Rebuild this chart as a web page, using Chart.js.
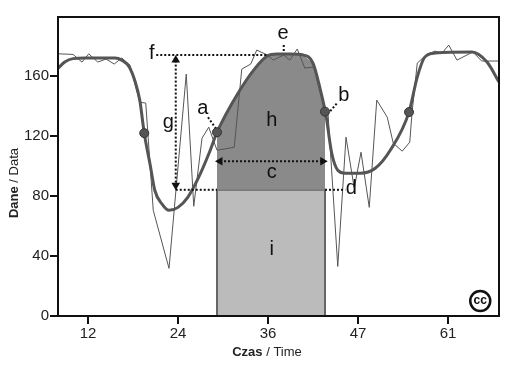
<!DOCTYPE html>
<html>
<head>
<meta charset="utf-8">
<style>
  html, body { margin: 0; padding: 0; background: #fff; }
  #wrap { width: 522px; height: 370px; }
</style>
<script src="https://cdn.jsdelivr.net/npm/chart.js@4/dist/chart.umd.min.js"></script>
</head>
<body>
<div id="wrap"><canvas id="chart" width="522" height="370"></canvas></div>
<script>
const xTickValues = [12, 24, 36, 48, 60];
const xTickLabels = ['12', '24', '36', '47', '61'];
const yTickValues = [0, 40, 80, 120, 160];

// thin line, raw data
const rawX = [8, 10, 11.2, 12.1, 13.3, 14.4, 15.5, 16.5, 17.6, 18.9, 19.7, 20.7, 22.8, 25.1, 26.1, 27.2, 28.1, 29.2, 31.5, 32.5, 33.7, 34.5, 35.9, 36.7, 38.1, 38.9, 39.9, 40.9, 42.1, 43.5, 44, 45.3, 46.4, 47.5, 48.4, 49.5, 50.5, 51.9, 52.7, 53.9, 54.9, 55.2, 55.9, 57.2, 58.3, 59.2, 60.1, 61.2, 63.3, 64.5, 66.8];
const rawY = [174.5, 174.1, 169, 174.5, 169, 171, 167.7, 171.7, 167, 142.3, 141.7, 70.3, 31.7, 161, 73, 118.3, 125.7, 110.3, 112.3, 164.3, 167.7, 177, 173.7, 170.3, 173.7, 170.3, 177.7, 165, 165.7, 138.3, 135, 33, 119, 85, 109, 72.3, 143.7, 132.3, 115, 109.7, 115.7, 135, 168.3, 174.3, 176.3, 175, 180.3, 170.3, 175.7, 169.7, 169.7];

// thick line, smoothed data
const fitX = [8, 8.9, 10, 11.6, 13.6, 15.6, 16.5, 17.5, 18.3, 18.9, 19.5, 20.3, 20.9, 21.9, 22.8, 24, 25.3, 26.7, 28.3, 29.2, 32, 34.3, 35.9, 37.2, 38.9, 40.7, 42, 42.9, 43.7, 44.5, 45.3, 46.3, 48.3, 50.3, 52.3, 54.8, 55.9, 56.9, 58.3, 63.2, 65.2, 66.8];
const fitY = [164.8, 169, 171.3, 171.7, 171.7, 171.7, 170.3, 165.7, 155.7, 143.7, 121.7, 100.3, 83.7, 74.3, 70.3, 72.3, 79, 91.7, 110.3, 122.3, 148.3, 165, 173, 174.3, 174.3, 173.7, 168.3, 152.3, 134.3, 108.3, 97, 95, 95, 98.3, 110.3, 135.7, 159, 172.3, 175, 175.7, 169, 155.7];

// shaded regions h and i
const areaX = [29.2, 32, 34.3, 35.9, 37.2, 38.9, 40.7, 42, 42.9, 43.6];
const areaTop = [122.3, 148.3, 165, 173, 174.3, 174.3, 173.7, 168.3, 152.3, 136];
const baseX = [29.2, 29.2, 43.6, 43.6];
const baseY = [0, 84, 84, 0];
const baseline = 84;

// markers on the curve
const dotX = [19.5, 29.2, 43.6, 54.8];
const dotY = [121.7, 122.3, 136, 135.7];

// dotted guides
const fLineX = [21.1, 35.9];
const fLineY = [173.7, 173.7];
const gLineX = [23.7, 23.7];
const gLineY = [170, 87];
const dLeftX = [23.7, 29.2];
const dRightX = [43.6, 46.3];
const dLineY = [84, 84];
const cLineX = [29.6, 43.3];
const cLineY = [103, 103];
const aLineX = [28, 29.2];
const aLineY = [132.3, 123.7];
const bLineX = [44.3, 45.3];
const bLineY = [136.3, 142.3];
const eLineX = [38.1, 38.1];
const eLineY = [180.3, 175];

// arrow heads
const arrowX = [23.7, 23.7, 29.6, 43.3];
const arrowY = [170.3, 87, 103, 103];
const arrowTurn = [0, 180, -90, 90];

// letters on the plot
const noteText = ['f', 'g', 'a', 'b', 'c', 'd', 'e', 'h', 'i'];
const noteX = [20.5, 22.7, 27.3, 46.1, 36.5, 47.1, 38, 36.5, 36.5];
const noteY = [175, 129, 138.3, 147, 95.7, 85, 187.7, 130.3, 44.3];

// cc badge
const badgeX = [64.3];
const badgeY = [10];

const pairs = (xs, ys) => xs.map((x, i) => ({ x: x, y: ys[i] }));

const guide = (xs, ys) => ({
    data: pairs(xs, ys),
    borderColor: '#111',
    borderWidth: 2,
    borderDash: [2, 2],
    pointRadius: 0,
    fill: false
});

const decorations = {
    id: 'decorations',
    afterDatasetsDraw(chart) {
        const ctx = chart.ctx;
        const area = chart.chartArea;
        const sx = chart.scales.x;
        const sy = chart.scales.y;

        ctx.save();
        ctx.strokeStyle = '#111';
        ctx.lineWidth = 2;
        ctx.strokeRect(area.left, area.top, area.right - area.left, area.bottom - area.top);

        ctx.fillStyle = '#111';
        ctx.font = '20px "Liberation Sans"';
        ctx.textAlign = 'center';
        ctx.textBaseline = 'middle';
        noteText.forEach((t, i) => {
            ctx.fillText(t, sx.getPixelForValue(noteX[i]), sy.getPixelForValue(noteY[i]));
        });

        ctx.font = 'bold 12px "Liberation Sans"';
        ctx.fillText('cc', sx.getPixelForValue(badgeX[0]), sy.getPixelForValue(badgeY[0]));
        ctx.restore();

        drawTitle(ctx, 267, 352, 0, 'Czas', ' / Time');
        drawTitle(ctx, 14, 183, -Math.PI / 2, 'Dane', ' / Data');
    }
};

function drawTitle(ctx, cx, cy, angle, boldPart, plainPart) {
    ctx.save();
    ctx.translate(cx, cy);
    ctx.rotate(angle);
    ctx.fillStyle = '#222';
    ctx.textBaseline = 'middle';
    ctx.textAlign = 'left';
    ctx.font = 'bold 13px "Liberation Sans"';
    const boldWidth = ctx.measureText(boldPart).width;
    ctx.font = '13px "Liberation Sans"';
    const plainWidth = ctx.measureText(plainPart).width;
    const start = -(boldWidth + plainWidth) / 2;
    ctx.fillText(plainPart, start + boldWidth, 0);
    ctx.font = 'bold 13px "Liberation Sans"';
    ctx.fillText(boldPart, start, 0);
    ctx.restore();
}

new Chart(document.getElementById('chart').getContext('2d'), {
    type: 'line',
    data: {
        // first dataset ends up on top
        datasets: [
            {
                data: pairs(badgeX, badgeY),
                showLine: false,
                pointRadius: 10,
                pointBorderWidth: 2.5,
                pointBackgroundColor: '#fff',
                pointBorderColor: '#111'
            },
            {
                data: pairs(arrowX, arrowY),
                showLine: false,
                pointStyle: 'triangle',
                pointRadius: 5,
                pointRotation: arrowTurn,
                pointBackgroundColor: '#111',
                pointBorderColor: '#111',
                pointBorderWidth: 0
            },
            {
                data: pairs(dotX, dotY),
                showLine: false,
                pointRadius: 4.5,
                pointBackgroundColor: '#555',
                pointBorderColor: '#333',
                pointBorderWidth: 1
            },
            guide(fLineX, fLineY),
            guide(gLineX, gLineY),
            guide(dLeftX, dLineY),
            guide(dRightX, dLineY),
            guide(cLineX, cLineY),
            guide(aLineX, aLineY),
            guide(bLineX, bLineY),
            guide(eLineX, eLineY),
            {
                data: pairs(fitX, fitY),
                borderColor: '#555',
                borderWidth: 3,
                cubicInterpolationMode: 'monotone',
                pointRadius: 0,
                fill: false
            },
            {
                data: pairs(rawX, rawY),
                borderColor: '#555',
                borderWidth: 1,
                pointRadius: 0,
                fill: false
            },
            {
                data: pairs(areaX, areaTop),
                borderWidth: 0,
                pointRadius: 0,
                backgroundColor: '#8a8a8a',
                fill: { value: baseline }
            },
            {
                data: pairs(baseX, baseY),
                borderColor: '#666',
                borderWidth: 2,
                pointRadius: 0,
                backgroundColor: '#bbbbbb',
                fill: 'origin'
            }
        ]
    },
    options: {
        responsive: false,
        animation: false,
        parsing: false,
        layout: { padding: { top: 17, right: 23, left: 0, bottom: 0 } },
        plugins: { legend: { display: false }, tooltip: { enabled: false } },
        scales: {
            x: {
                type: 'linear',
                min: 8,
                max: 66.8,
                afterFit(scale) { scale.height = 54; },
                afterBuildTicks(scale) { scale.ticks = xTickValues.map(v => ({ value: v })); },
                border: { color: '#111', width: 2 },
                grid: { drawOnChartArea: false, color: '#111', lineWidth: 2, tickLength: 8 },
                ticks: {
                    color: '#222',
                    maxRotation: 0,
                    padding: 1,
                    font: { family: '"Liberation Sans"', size: 15 },
                    callback(value) { return xTickLabels[xTickValues.indexOf(value)]; }
                }
            },
            y: {
                type: 'linear',
                min: 0,
                max: 199,
                afterFit(scale) { scale.width = 58; },
                afterBuildTicks(scale) { scale.ticks = yTickValues.map(v => ({ value: v })); },
                border: { color: '#111', width: 2 },
                grid: { drawOnChartArea: false, color: '#111', lineWidth: 2, tickLength: 8 },
                ticks: {
                    color: '#222',
                    padding: 1,
                    font: { family: '"Liberation Sans"', size: 15 }
                }
            }
        }
    },
    plugins: [decorations]
});
</script>
</body>
</html>
